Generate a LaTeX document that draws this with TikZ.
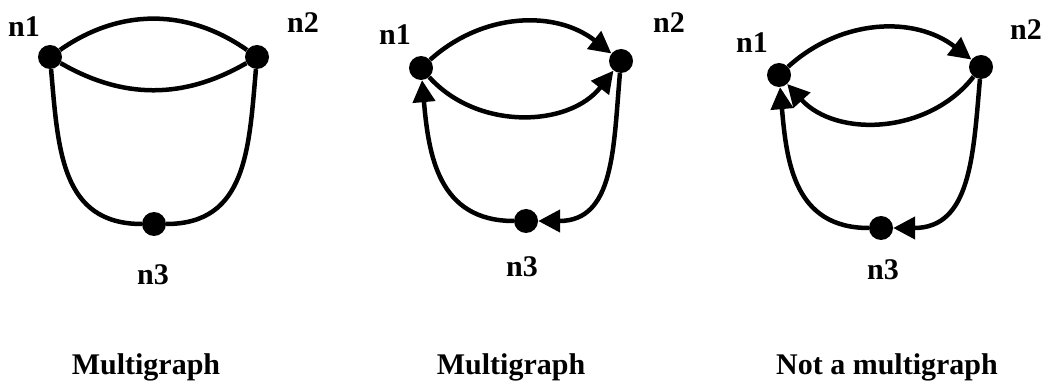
\documentclass[tikz,border=0pt]{standalone}
\usepackage{fontspec}
\setmainfont{Liberation Serif}
\usepackage{tikz}
\usetikzlibrary{arrows.meta,positioning}

\tikzset{
  vtx/.style={circle, fill=black, inner sep=0pt, minimum size=24pt},
  lbl/.style={font=\bfseries\fontsize{30}{30}\selectfont, anchor=base, inner sep=0pt},
  edge/.style={line width=4.5pt},
  arr/.style={edge, -{Triangle[length=22pt,width=22pt]}}
}

\begin{document}
\begin{tikzpicture}[x=1pt, y=1pt]
        \useasboundingbox (0,0) rectangle (1044,383);

        % Multigraph (undirected)
        \node[vtx] (a1) at (50,326) {};
        \node[vtx] (a2) at (257,326) {};
        \node[vtx] (a3) at (154,159) {};
        \node[lbl] (la1) at (24,346) {n1};
        \node[lbl] (la2) at (303,350) {n2};
        \node[lbl] (la3) at (153,98) {n3};
        \draw[edge] (a1) to[bend left=35] (a2);
        \draw[edge] (a1) to[bend right=30] (a2);
        \draw[edge] (a1) to[out=-85, in=180, looseness=1.15] (a3);
        \draw[edge] (a3) to[out=0, in=-95, looseness=1.15] (a2);
        \node[lbl] (capa) at (146,9) {Multigraph};

        % Multigraph (directed)
        \node[vtx] (b1) at (421,315) {};
        \node[vtx] (b2) at (621,322) {};
        \node[vtx] (b3) at (526,162) {};
        \node[lbl] (lb1) at (395,338) {n1};
        \node[lbl] (lb2) at (669,350) {n2};
        \node[lbl] (lb3) at (522,106) {n3};
        \draw[arr] (b1) to[bend left=40] (b2);
        \draw[arr] (b1) to[bend right=50] (b2);
        \draw[arr] (b2) to[out=-95, in=0, looseness=1.15] (b3);
        \draw[arr] (b3) to[out=180, in=-85, looseness=1.15] (b1);
        \node[lbl] (capb) at (511,9) {Multigraph};

        % Not a multigraph
        \node[vtx] (c1) at (779,308) {};
        \node[vtx] (c2) at (981,316) {};
        \node[vtx] (c3) at (881,155) {};
        \node[lbl] (lc1) at (752,330) {n1};
        \node[lbl] (lc2) at (1026,343) {n2};
        \node[lbl] (lc3) at (883,103) {n3};
        \draw[arr] (c1) to[bend left=40] (c2);
        \draw[arr] (c2) to[bend left=50] (c1);
        \draw[arr] (c2) to[out=-95, in=0, looseness=1.15] (c3);
        \draw[arr] (c3) to[out=180, in=-85, looseness=1.15] (c1);
        \node[lbl] (capc) at (887,9) {Not a multigraph};
    \end{tikzpicture}
\end{document}
